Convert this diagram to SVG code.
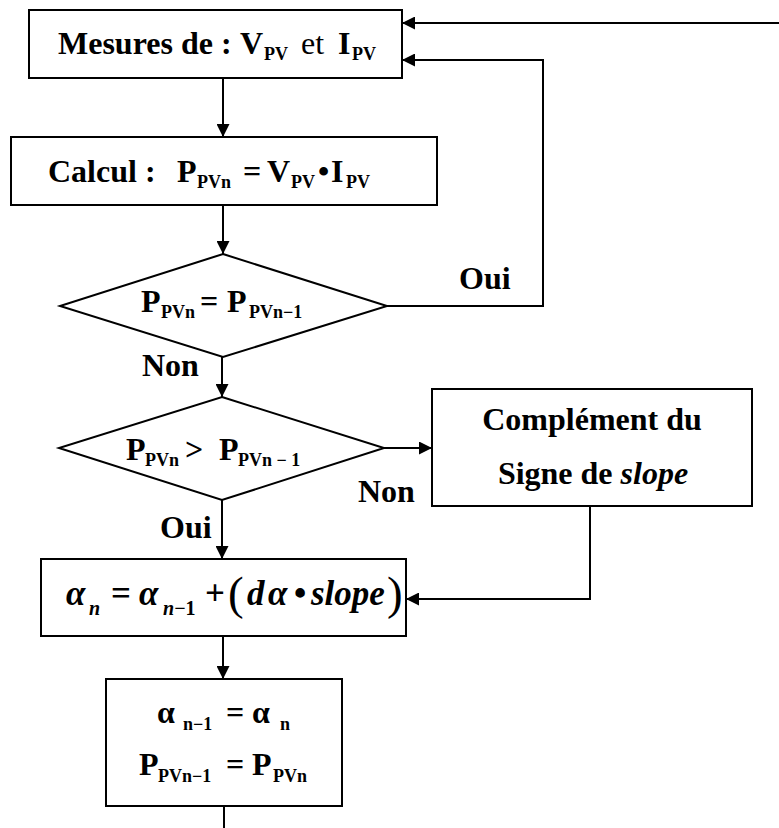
<svg xmlns="http://www.w3.org/2000/svg" width="779" height="828" viewBox="0 0 779 828">
  <defs>
    <marker id="arrow" viewBox="0 0 13 13" markerWidth="13" markerHeight="13" refX="13" refY="6.5" orient="auto" markerUnits="userSpaceOnUse">
      <path d="M0,0 L13,6.5 L0,13 z" fill="#000"/>
    </marker>
    <style>
      .shape { fill: #fff; stroke: #000; stroke-width: 2; }
      .wire { fill: none; stroke: #000; stroke-width: 2; }
      .arr { marker-end: url(#arrow); }
      text { font-family: "Liberation Serif", "Times New Roman", serif; fill: #000; }
      .b { font-weight: bold; font-size: 32px; }
      .sub { font-size: 18px; }
      .reg { font-weight: normal; }
      .math { font-style: italic; font-weight: bold; font-size: 35px; }
      .up { font-style: normal; }
      .msub { font-size: 20px; }
      .paren { font-style: normal; font-weight: normal; font-size: 47px; }
    </style>
  </defs>

  <!-- connectors -->
  <g id="connectors">
    <line class="wire arr" x1="779" y1="23" x2="402" y2="23"/>
    <line class="wire arr" x1="223" y1="78" x2="223" y2="137"/>
    <line class="wire arr" x1="223" y1="205" x2="223" y2="254"/>
    <polyline class="wire arr" points="387,306 543,306 543,60 402,60"/>
    <line class="wire arr" x1="222" y1="357" x2="222" y2="397"/>
    <line class="wire arr" x1="384" y1="448" x2="432" y2="448"/>
    <line class="wire arr" x1="222" y1="500" x2="222" y2="559"/>
    <polyline class="wire arr" points="590,506 590,599 406,599"/>
    <line class="wire arr" x1="223" y1="636" x2="223" y2="679"/>
    <line class="wire" x1="224" y1="806" x2="224" y2="828"/>
  </g>

  <!-- connector labels -->
  <g id="labels">
    <text class="b" x="459" y="289">Oui</text>
    <text class="b" x="142" y="376">Non</text>
    <text class="b" x="358" y="502">Non</text>
    <text class="b" x="160" y="538">Oui</text>
  </g>

  <g id="measure">
    <rect class="shape" x="29" y="10" width="373" height="68"/>
    <text class="b">
      <tspan x="58" y="54">Mesures de :</tspan>
      <tspan x="240" y="54">V</tspan><tspan class="sub" x="264" y="60">PV</tspan>
      <tspan class="reg" x="301" y="54">et</tspan>
      <tspan x="338" y="54">I</tspan><tspan class="sub" x="352" y="60">PV</tspan>
    </text>
  </g>

  <g id="compute">
    <rect class="shape" x="11" y="137" width="426" height="68"/>
    <text class="b">
      <tspan x="48" y="182">Calcul :</tspan>
      <tspan x="177" y="182">P</tspan><tspan class="sub" x="197" y="188">PVn</tspan>
      <tspan x="243" y="182">=</tspan>
      <tspan x="267" y="182">V</tspan><tspan class="sub" x="291" y="188">PV</tspan>
      <tspan x="318" y="182">•</tspan>
      <tspan x="331" y="182">I</tspan><tspan class="sub" x="346" y="188">PV</tspan>
    </text>
  </g>

  <g id="test-equal">
    <polygon class="shape" points="223,254 387,306 223,357 60,306"/>
    <text class="b">
      <tspan x="141" y="312">P</tspan><tspan class="sub" x="161" y="318">PVn</tspan>
      <tspan x="200" y="312">=</tspan>
      <tspan x="227" y="312">P</tspan><tspan class="sub" x="249" y="318">PVn−1</tspan>
    </text>
  </g>

  <g id="test-greater">
    <polygon class="shape" points="222,397 384,448 222,500 59,448"/>
    <text class="b">
      <tspan x="126" y="460">P</tspan><tspan class="sub" x="145" y="466">PVn</tspan>
      <tspan x="185" y="460">&gt;</tspan>
      <tspan x="219" y="460">P</tspan><tspan class="sub" x="238" y="466">PVn − 1</tspan>
    </text>
  </g>

  <g id="complement">
    <rect class="shape" x="432" y="389" width="320" height="117"/>
    <text class="b" x="592" y="430" text-anchor="middle">Complément du</text>
    <text class="b" x="593" y="484" text-anchor="middle">Signe de <tspan font-style="italic">slope</tspan></text>
  </g>

  <g id="update">
    <rect class="shape" x="41" y="559" width="365" height="77"/>
    <text class="math">
      <tspan x="66" y="605">α</tspan><tspan class="msub" x="89" y="615">n</tspan>
      <tspan class="up" x="111" y="605">=</tspan>
      <tspan x="139" y="605">α</tspan><tspan class="msub" x="163" y="615">n<tspan class="up">−1</tspan></tspan>
      <tspan class="up" x="205" y="605">+</tspan>
      <tspan class="paren" x="228" y="609">(</tspan>
      <tspan x="247" y="605">d</tspan>
      <tspan x="268" y="605">α</tspan>
      <tspan class="up" x="294" y="605">•</tspan>
      <tspan x="311" y="605">slope</tspan>
      <tspan class="paren" x="387" y="609">)</tspan>
    </text>
  </g>

  <g id="store">
    <rect class="shape" x="106" y="679" width="236" height="127"/>
    <text class="b">
      <tspan x="157" y="723">α</tspan><tspan class="sub" x="183" y="730">n−1</tspan>
      <tspan x="226" y="723">=</tspan>
      <tspan x="252" y="723">α</tspan><tspan class="sub" x="280" y="730">n</tspan>
      <tspan x="139" y="775">P</tspan><tspan class="sub" x="158" y="782">PVn−1</tspan>
      <tspan x="226" y="775">=</tspan>
      <tspan x="252" y="775">P</tspan><tspan class="sub" x="273" y="782">PVn</tspan>
    </text>
  </g>
</svg>
